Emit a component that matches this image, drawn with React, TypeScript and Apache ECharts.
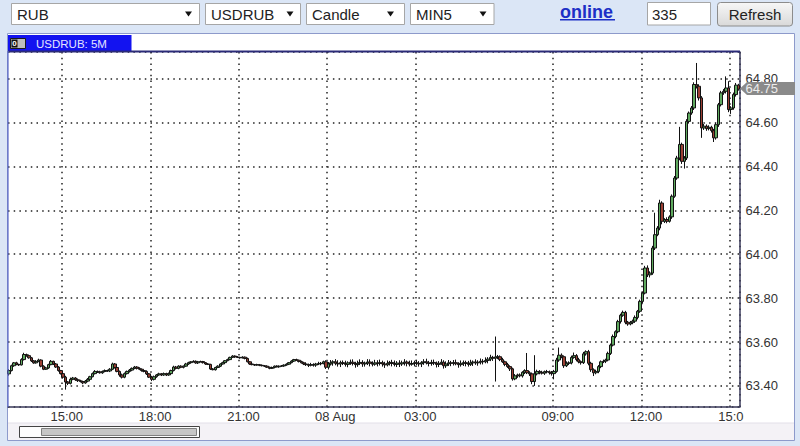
import React, { useEffect, useRef } from 'react';
import * as echarts from 'echarts';

// ---- data -------------------------------------------------------------
// two trading sessions of 5-minute candles (night gap 05:40 - 06:55)
const sessions = [
  { day: 7, start: '13:10', count: 198 },
  { day: 8, start: '07:00', count: 100 },
];

const firstOpen = 63.455;

const closes = [
  63.470, 63.492, 63.505, 63.498, 63.496, 63.520, 63.543, 63.538, 63.528, 63.514,
  63.505, 63.512, 63.518, 63.490, 63.476, 63.482, 63.497, 63.512, 63.500, 63.486,
  63.470, 63.456, 63.440, 63.418, 63.412, 63.430, 63.436, 63.428, 63.424, 63.420,
  63.414, 63.422, 63.430, 63.442, 63.456, 63.466, 63.464, 63.460, 63.466, 63.470,
  63.468, 63.476, 63.500, 63.484, 63.466, 63.450, 63.440, 63.456, 63.466, 63.472,
  63.480, 63.486, 63.480, 63.476, 63.470, 63.466, 63.455, 63.440, 63.430, 63.442,
  63.450, 63.455, 63.450, 63.456, 63.450, 63.456, 63.470, 63.486, 63.480, 63.490,
  63.485, 63.490, 63.500, 63.506, 63.510, 63.512, 63.505, 63.510, 63.511, 63.506,
  63.500, 63.498, 63.477, 63.474, 63.484, 63.490, 63.500, 63.506, 63.515, 63.520,
  63.530, 63.536, 63.532, 63.530, 63.528, 63.531, 63.525, 63.510, 63.500, 63.497,
  63.495, 63.497, 63.494, 63.492, 63.490, 63.485, 63.480, 63.484, 63.490, 63.487,
  63.490, 63.491, 63.495, 63.499, 63.506, 63.513, 63.520, 63.517, 63.511, 63.505,
  63.500, 63.497, 63.494, 63.497, 63.495, 63.500, 63.501, 63.503, 63.510, 63.485,
  63.500, 63.505, 63.510, 63.503, 63.500, 63.506, 63.502, 63.498, 63.505, 63.508,
  63.502, 63.497, 63.503, 63.507, 63.500, 63.504, 63.509, 63.503, 63.499, 63.505,
  63.502, 63.506, 63.500, 63.496, 63.503, 63.507, 63.502, 63.498, 63.504, 63.500,
  63.505, 63.509, 63.503, 63.499, 63.502, 63.506, 63.503, 63.500, 63.506, 63.510,
  63.505, 63.502, 63.507, 63.504, 63.498, 63.503, 63.508, 63.492, 63.500, 63.505,
  63.503, 63.506, 63.501, 63.497, 63.503, 63.506, 63.502, 63.498, 63.505, 63.509,
  63.505, 63.508, 63.512, 63.510, 63.516, 63.522, 63.530, 63.526, 63.532, 63.533,
  63.520, 63.510, 63.498, 63.488, 63.478, 63.432, 63.446, 63.450, 63.446, 63.462,
  63.470, 63.460, 63.455, 63.420, 63.455, 63.466, 63.462, 63.458, 63.465, 63.464,
  63.460, 63.456, 63.466, 63.518, 63.540, 63.533, 63.492, 63.503, 63.505, 63.530,
  63.538, 63.520, 63.510, 63.506, 63.546, 63.556, 63.503, 63.474, 63.460, 63.466,
  63.488, 63.510, 63.512, 63.518, 63.548, 63.586, 63.625, 63.647, 63.693, 63.722,
  63.735, 63.690, 63.682, 63.688, 63.695, 63.712, 63.740, 63.785, 63.823, 63.937,
  63.906, 63.914, 64.028, 64.089, 64.119, 64.233, 64.150, 64.158, 64.150, 64.170,
  64.264, 64.347, 64.438, 64.500, 64.423, 64.438, 64.605, 64.643, 64.666, 64.773,
  64.765, 64.712, 64.575, 64.583, 64.572, 64.578, 64.563, 64.530, 64.590, 64.681,
  64.735, 64.742, 64.757, 64.659, 64.666, 64.727, 64.770, 64.752,
];

// wick lengths above / below the body, in thousandths of a rouble
const wickUp = [
  6, 5, 4, 5, 3, 6, 8, 4, 5, 4,
  4, 5, 6, 3, 4, 5, 4, 6, 3, 4,
  4, 3, 5, 6, 4, 8, 5, 4, 6, 4,
  4, 5, 6, 4, 5, 6, 4, 5, 4, 5,
  4, 5, 6, 4, 5, 4, 6, 5, 4, 5,
  4, 5, 4, 5, 4, 3, 5, 4, 6, 5,
  4, 5, 4, 5, 4, 5, 4, 6, 5, 4,
  4, 3, 5, 4, 3, 5, 4, 3, 4, 3,
  3, 4, 3, 4, 3, 4, 3, 4, 3, 4,
  3, 4, 3, 4, 3, 4, 3, 4, 3, 4,
  3, 4, 3, 4, 3, 4, 3, 4, 3, 4,
  3, 4, 3, 4, 3, 4, 3, 4, 3, 4,
  5, 7, 5, 8, 6, 5, 9, 6, 5, 7,
  9, 13, 7, 12, 14, 9, 10, 13, 7, 12,
  13, 8, 12, 14, 10, 7, 13, 12, 9, 14,
  12, 14, 9, 10, 13, 7, 12, 14, 9, 13,
  10, 13, 7, 12, 14, 9, 13, 10, 7, 12,
  14, 9, 12, 13, 7, 10, 14, 9, 12, 13,
  9, 12, 14, 7, 13, 10, 9, 12, 14, 7,
  12, 9, 13, 10, 14, 9, 12, 7, 93, 8,
  6, 8, 5, 7, 6, 5, 8, 6, 7, 5,
  6, 80, 7, 6, 85, 8, 6, 7, 5, 8,
  6, 8, 7, 10, 35, 8, 6, 9, 7, 8,
  14, 7, 8, 6, 9, 6, 8, 7, 6, 8,
  7, 6, 8, 6, 8, 7, 9, 6, 8, 7,
  8, 7, 6, 8, 7, 9, 6, 8, 7, 10,
  12, 8, 10, 100, 9, 15, 8, 6, 10, 7,
  8, 9, 10, 80, 8, 9, 10, 7, 9, 10,
  98, 9, 8, 10, 8, 9, 7, 8, 9, 8,
  9, 10, 53, 31, 8, 9, 10, 6,
];

const wickDown = [
  8, 4, 5, 4, 5, 3, 4, 5, 4, 5,
  4, 3, 4, 5, 4, 3, 4, 3, 5, 4,
  5, 4, 6, 35, 8, 5, 4, 5, 6, 4,
  6, 4, 5, 4, 3, 4, 5, 4, 5, 4,
  4, 5, 4, 5, 4, 8, 6, 5, 4, 5,
  5, 4, 5, 4, 5, 4, 5, 4, 8, 5,
  5, 4, 5, 4, 5, 4, 5, 4, 5, 4,
  4, 5, 3, 4, 5, 3, 4, 5, 3, 4,
  4, 3, 4, 3, 4, 3, 4, 3, 4, 3,
  3, 3, 4, 3, 4, 3, 4, 3, 4, 3,
  4, 3, 4, 3, 4, 3, 4, 3, 4, 3,
  4, 3, 4, 3, 4, 3, 4, 3, 4, 3,
  5, 6, 8, 5, 7, 8, 5, 7, 5, 8,
  10, 7, 13, 9, 12, 14, 7, 10, 13, 9,
  9, 14, 10, 7, 13, 12, 9, 14, 10, 7,
  13, 9, 12, 14, 7, 10, 13, 9, 12, 14,
  9, 12, 14, 10, 7, 13, 9, 12, 14, 10,
  7, 13, 10, 9, 14, 12, 7, 13, 10, 9,
  13, 10, 7, 14, 9, 12, 13, 10, 7, 14,
  9, 13, 10, 12, 7, 13, 9, 12, 106, 10,
  7, 5, 8, 6, 10, 8, 6, 9, 7, 8,
  8, 6, 10, 12, 20, 7, 9, 6, 8, 7,
  8, 9, 26, 6, 8, 7, 10, 6, 8, 7,
  6, 8, 7, 9, 6, 8, 9, 10, 15, 7,
  8, 7, 6, 8, 6, 7, 6, 8, 7, 9,
  7, 9, 8, 6, 7, 8, 9, 7, 8, 6,
  10, 12, 8, 9, 7, 10, 14, 8, 9, 6,
  9, 7, 8, 10, 12, 33, 9, 10, 8, 9,
  10, 12, 45, 9, 10, 8, 9, 19, 8, 10,
  8, 9, 10, 12, 20, 8, 9, 7,
];

const yMin = 63.304;
const yMax = 64.921;
const lastPrice = 64.75;
const lastPriceLabel = '64.75';
const symbolTitle = 'USDRUB: 5M';

// ---- helpers ----------------------------------------------------------
const pad = (n: number) => String(n).padStart(2, '0');

function buildCategories(): string[] {
  const out: string[] = [];
  sessions.forEach((s) => {
    const [h, m] = s.start.split(':').map(Number);
    const t0 = h * 60 + m;
    for (let k = 0; k < s.count; k++) {
      const t = t0 + k * 5;
      const d = s.day + Math.floor(t / 1440);
      const tm = t % 1440;
      out.push(`${pad(d)} Aug ${pad(Math.floor(tm / 60))}:${pad(tm % 60)}`);
    }
  });
  return out;
}

const categories = buildCategories();

const candles = closes.map((c, i) => {
  const o = i === 0 ? firstOpen : closes[i - 1];
  const hi = Math.max(o, c) + wickUp[i] / 1000;
  const lo = Math.min(o, c) - wickDown[i] / 1000;
  return [o, c, +lo.toFixed(3), +hi.toFixed(3)];
});

const isMajor = (v: string) => {
  const hm = v.slice(7);
  const [h, m] = hm.split(':').map(Number);
  return m === 0 && h % 3 === 0;
};

const FONT = '"Liberation Sans", Arial, sans-serif';

function tri(cx: number, cy: number) {
  return {
    type: 'polygon',
    z: 10,
    shape: { points: [[cx - 3.5, cy - 2.5], [cx + 3.5, cy - 2.5], [cx, cy + 2.5]] },
    style: { fill: '#111' },
  };
}

function selectBox(x: number, w: number, label: string, arrowX: number) {
  return [
    { type: 'rect', z: 10, shape: { x: x + 0.5, y: 3.5, width: w, height: 21 }, style: { fill: '#fff', stroke: '#a6a6a6', lineWidth: 1 } },
    { type: 'text', z: 11, x: x + 6, y: 14.5, style: { text: label, fill: '#222', font: `15px ${FONT}`, verticalAlign: 'middle' } },
    tri(arrowX, 14),
  ];
}

export default function App() {
  const ref = useRef<HTMLDivElement>(null);

  useEffect(() => {
    if (!ref.current) return;
    const chart = echarts.init(ref.current, undefined, { renderer: 'svg' });
    const dotted = { color: '#222', width: 1.5, type: [1.5, 4.2] as number[] };

    chart.setOption({
      animation: false,
      backgroundColor: 'transparent',
      grid: { left: 8, right: 60.5, top: 52, bottom: 39, containLabel: false },
      xAxis: {
        type: 'category',
        data: categories,
        boundaryGap: true,
        axisLine: { show: true, lineStyle: { color: '#3a3a5a', width: 1.5 } },
        axisTick: { show: false, interval: (i: number, v: string) => isMajor(v) },
        splitLine: { show: true, interval: (i: number, v: string) => isMajor(v), lineStyle: dotted },
        axisLabel: {
          interval: (i: number, v: string) => isMajor(v),
          margin: 3,
          color: '#333',
          fontFamily: FONT,
          fontSize: 13,
          formatter: (v: string) => {
            const hm = v.slice(7);
            if (hm === '00:00') return `{b|${v.slice(0, 6)}}`;
            if (v === categories[categories.length - 4]) return `{c|${hm.slice(0, 4)}}`;
            return `{a|${hm}}`;
          },
          rich: {
            a: { padding: [0, 0, 0, 7], fontSize: 13, fontFamily: FONT, color: '#333' },
            b: { padding: [0, 0, 0, 14], fontSize: 13, fontFamily: FONT, color: '#333' },
            c: { padding: [0, 0, 0, 0], fontSize: 13, fontFamily: FONT, color: '#333' },
          },
        },
      },
      yAxis: {
        type: 'value',
        position: 'right',
        min: yMin,
        max: yMax,
        splitNumber: 8,
        axisLine: { show: true, lineStyle: { color: '#3a3a5a', width: 1.5 } },
        axisTick: { show: false },
        splitLine: { show: true, lineStyle: dotted },
        axisLabel: {
          showMinLabel: false,
          showMaxLabel: false,
          margin: 6,
          color: '#333',
          fontFamily: FONT,
          fontSize: 13,
          lineHeight: 9,
          formatter: (v: number) => v.toFixed(2),
        },
      },
      series: [
        {
          type: 'candlestick',
          data: candles,
          barWidth: 3,
          itemStyle: {
            color: '#5fa95f',
            color0: '#9b3f33',
            borderColor: '#111',
            borderColor0: '#111',
            borderWidth: 1,
          },
        },
      ],
    });

    const ty = chart.convertToPixel({ yAxisIndex: 0 }, lastPrice) as number;

    const graphics: any[] = [
      // page and panel backgrounds
      { type: 'rect', z: -3, shape: { x: 0, y: 0, width: 800, height: 446 }, style: { fill: '#dbe6f6' } },
      { type: 'rect', z: -2, shape: { x: 7.5, y: 33.5, width: 787, height: 407 }, style: { fill: '#ffffff', stroke: '#8d9acb', lineWidth: 1 } },
      { type: 'rect', z: -1, shape: { x: 8, y: 423, width: 786, height: 17 }, style: { fill: '#f4f2f6' } },
      { type: 'line', z: -1, shape: { x1: 8, y1: 423, x2: 794, y2: 423 }, style: { stroke: '#e2dfe8', lineWidth: 1 } },
      // scrollbar
      { type: 'rect', z: 5, shape: { x: 19.5, y: 426.5, width: 180, height: 11 }, style: { fill: '#fdfdfd', stroke: '#444', lineWidth: 1 } },
      { type: 'rect', z: 6, shape: { x: 41.5, y: 428.5, width: 155, height: 7 }, style: { fill: '#c6c6c6', stroke: '#808080', lineWidth: 1 } },
      // tab
      { type: 'rect', z: 5, shape: { x: 8, y: 35, width: 123.5, height: 16.5 }, style: { fill: '#1313f0' } },
      { type: 'rect', z: 6, shape: { x: 10.5, y: 38.5, width: 15, height: 10 }, style: { fill: '#bdbdbd', stroke: '#1a1a1a', lineWidth: 1 } },
      { type: 'rect', z: 7, shape: { x: 11.5, y: 39.5, width: 6, height: 8 }, style: { fill: '#111' } },
      { type: 'text', z: 8, x: 14.5, y: 43.8, style: { text: '0', fill: '#fff', font: `bold 8px ${FONT}`, align: 'center', verticalAlign: 'middle' } },
      { type: 'text', z: 8, x: 36, y: 43.5, style: { text: symbolTitle, fill: '#e4e4ff', font: `11.5px ${FONT}`, verticalAlign: 'middle' } },
      // plot top border
      { type: 'line', z: 20, shape: { x1: 8, y1: 51.5, x2: 740, y2: 51.5 }, style: { stroke: '#2b2b78', lineWidth: 2 } },
      { type: 'line', z: 20, shape: { x1: 8, y1: 51, x2: 8, y2: 407 }, style: { stroke: '#5a68c8', lineWidth: 1.2 } },
      // toolbar
      ...selectBox(11, 188, 'RUB', 188.5),
      ...selectBox(205, 95, 'USDRUB', 290),
      ...selectBox(306, 98, 'Candle', 390.5),
      ...selectBox(410, 83.5, 'MIN5', 483),
      { type: 'text', z: 11, x: 560, y: 12, style: { text: 'online', fill: '#1d2fc6', font: `bold 18px ${FONT}`, verticalAlign: 'middle' } },
      { type: 'line', z: 11, shape: { x1: 560, y1: 19.8, x2: 615, y2: 19.8 }, style: { stroke: '#1d2fc6', lineWidth: 1.4 } },
      { type: 'rect', z: 10, shape: { x: 647.5, y: 2.5, width: 63, height: 22.5 }, style: { fill: '#fff', stroke: '#a6a6a6', lineWidth: 1 } },
      { type: 'text', z: 11, x: 652, y: 14, style: { text: '335', fill: '#222', font: `15px ${FONT}`, verticalAlign: 'middle' } },
      {
        type: 'rect', z: 10, shape: { x: 717.5, y: 2.5, width: 75, height: 23.5, r: 3 },
        style: {
          fill: new echarts.graphic.LinearGradient(0, 0, 0, 1, [
            { offset: 0, color: '#f7f7f7' },
            { offset: 1, color: '#d9d9d9' },
          ]),
          stroke: '#8c8c8c', lineWidth: 1,
        },
      },
      { type: 'text', z: 11, x: 755, y: 14.5, style: { text: 'Refresh', fill: '#222', font: `15px ${FONT}`, align: 'center', verticalAlign: 'middle' } },
      // last price tag
      {
        type: 'polygon', z: 30,
        shape: { points: [[740, ty - 1], [747, ty - 7.5], [795, ty - 7.5], [795, ty + 5.5], [747, ty + 5.5]] },
        style: { fill: '#8a8a8a' },
      },
      { type: 'text', z: 31, x: 745.5, y: ty - 1.2, style: { text: lastPriceLabel, fill: '#ececec', font: `13px ${FONT}`, lineHeight: 9, verticalAlign: 'middle' } },
    ];

    chart.setOption({ graphic: { elements: graphics } });

    return () => chart.dispose();
  }, []);

  return (
    <div
      ref={ref}
      style={{ position: 'fixed', left: 0, top: 0, width: 800, height: 446, background: '#dbe6f6' }}
    />
  );
}
